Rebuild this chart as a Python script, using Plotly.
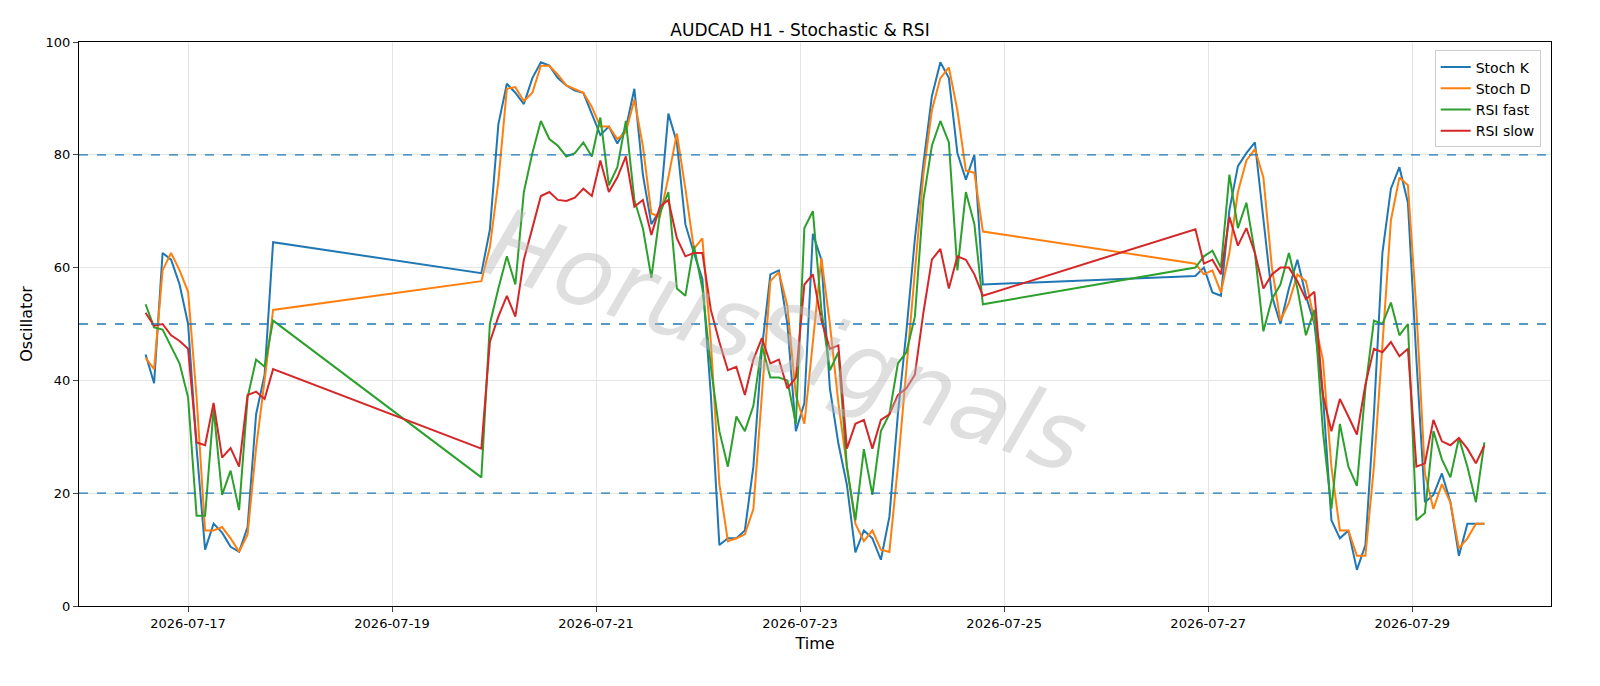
import pandas as pd
import plotly.graph_objects as go

seg1_start, seg1_n = "2026-07-16 14:00", 16
seg2_start, seg2_n = "2026-07-19 21:00", 60
seg3_start, seg3_n = "2026-07-26 21:00", 35

stoch_k = [44.6, 39.5, 62.6, 61.4, 57, 50, 28, 10, 14.6, 13, 10.5, 9.6, 14, 34, 41, 64.5,
           59, 66.7, 85.4, 92.6, 91, 89, 93.6, 96.4, 95.8, 93.6, 92.3, 91.4, 91, 87.3, 83.5, 85, 82, 84.7, 91.7, 76.5,
           67.7, 70.2, 87.3, 82.2, 67.7, 62.6, 58, 37.4, 10.8, 12, 12, 13.4, 24.7, 45.6, 58.8, 59.5, 50, 31, 36,
           66, 61.4, 38.6, 28.8, 21.5, 9.5, 13.4, 12, 8.2, 15.8, 34, 48.7, 65.1, 78.4, 90.4, 96.4, 93.6, 80.3, 75.6, 80, 57,
           58.5, 60, 55.6, 55, 70.2, 78, 80.3, 82.2, 68.4, 55, 50, 56.3, 61.4, 55, 50, 37.4, 15.2, 12, 13.4, 6.4, 10.8,
           34, 62.6, 74, 77.8, 71.5, 43.7, 18.4, 19.7, 23.5, 18.4, 8.9, 14.6, 14.6, 14.6]
stoch_d = [44, 42, 59.5, 62.6, 59.5, 55.7, 37, 13.4, 13.4, 14, 12, 9.6, 12.7, 28, 40, 52.5,
           57.6, 63.6, 75.3, 91.7, 92, 89.5, 91, 95.8, 95.8, 94.2, 92.3, 91.7, 91, 88.5, 85, 85, 82.8, 84, 89.8, 81.6,
           69.6, 69, 76, 83.8, 74, 63.3, 65.2, 46.8, 21.6, 11.5, 12, 12.7, 17.2, 37.4, 57.6, 59.2, 53.2, 37.4, 32.3,
           46.8, 61.7, 50, 36, 24.7, 14.6, 11.5, 13.4, 10, 9.6, 24.7, 41.8, 60, 76.5, 87.9, 93.6, 95.5, 87.9, 77.2, 76.8, 66.4,
           60.7, 58.8, 59.5, 55.6, 62.6, 73.4, 79, 81, 76, 60, 50.6, 53.8, 58.8, 57.6, 50.6, 43.7, 24.7, 13.4, 13.4, 8.9, 8.9,
           24.7, 46.2, 68.4, 76, 74.6, 52.5, 23.5, 17.2, 21.6, 18.4, 10.2, 12, 14.6, 14.6]
rsi_fast = [53.5, 49.4, 49, 46, 43, 37, 16, 16, 35, 19.7, 24, 17, 37, 43.7, 42.4, 50.6,
            22.8, 50, 56.3, 62, 57, 73.4, 80.3, 86, 82.8, 81.6, 79.7, 80.3, 82.2, 79.7, 86.6, 74.6, 77.8, 86, 72, 67,
            58.2, 69.6, 73.4, 56.3, 55, 63.9, 56.3, 42.4, 31, 24.7, 33.6, 31, 35.5, 46.2, 40.5, 40.5, 40, 32.3, 67,
            70, 52.5, 41.8, 45, 24.7, 15.2, 27.8, 19.7, 31, 34, 43, 45, 51.3, 72, 81.6, 86, 82.2, 59.5, 73.4, 67.7, 53.5,
            60, 62, 63, 60, 76.5, 67, 71.5, 62.6, 48.7, 54.4, 57, 62.6, 56.3, 48, 52.5, 31, 17.2, 32.3, 24.7, 21.3, 38.6,
            50.6, 50, 53.8, 48, 50, 15.2, 16.5, 31, 26, 22.8, 29.8, 24.7, 18.4, 29]
rsi_slow = [52, 49.7, 50, 48, 47, 45.6, 29, 28.5, 36, 26.3, 28, 24.7, 37.4, 38, 36.7, 42,
            27.9, 46.8, 51.3, 55, 51.3, 61.4, 67, 72.7, 73.4, 72, 71.8, 72.4, 74, 72.7, 79, 73.4, 76, 79.7, 70.8, 72,
            65.8, 70.8, 72, 65.2, 62, 62.6, 62.6, 52.5, 46.8, 41.8, 42.4, 37.4, 43.7, 47.5, 43, 43.7, 38.6, 40.5, 57,
            58.8, 50.6, 45.6, 46.2, 27.9, 32.3, 33, 27.9, 33, 34, 37.4, 38.6, 41, 52, 61.4, 63.3, 56.3, 62, 61.4, 58.8, 55,
            66.8, 60.7, 61.4, 58.8, 69, 63.9, 67, 62.6, 56.3, 58.8, 60, 60, 57.6, 54.4, 55.7, 37.4, 31, 36.7, 33.6, 30.4, 39.3,
            45.6, 45, 46.8, 44.3, 45.6, 24.7, 25.3, 33, 29.2, 28.5, 29.8, 27.9, 25.3, 28.5]

times = (list(pd.date_range(seg1_start, periods=seg1_n, freq="2h"))
         + list(pd.date_range(seg2_start, periods=seg2_n, freq="2h"))
         + list(pd.date_range(seg3_start, periods=seg3_n, freq="2h")))

fig = go.Figure()
for name, vals, col in [("Stoch K", stoch_k, "#1f77b4"), ("Stoch D", stoch_d, "#ff7f0e"),
                        ("RSI fast", rsi_fast, "#2ca02c"), ("RSI slow", rsi_slow, "#d62728")]:
    fig.add_trace(go.Scatter(x=times, y=vals, mode="lines", name=name, line=dict(color=col, width=2)))

for lvl in [20, 50, 80]:
    fig.add_hline(y=lvl, line=dict(color="#1f77b4", width=1.3, dash="dash"))

fig.add_annotation(text="<i>HorusSignals</i>", xref="paper", yref="paper", x=0.48, y=0.47,
                   showarrow=False, textangle=19,
                   font=dict(size=96, color="rgba(185,185,185,0.45)", family="DejaVu Sans"))

fig.update_layout(
    autosize=True, paper_bgcolor="white", plot_bgcolor="white",
    margin=dict(l=79, r=49, t=42, b=80),
    title=dict(text="AUDCAD H1 - Stochastic & RSI", x=0.5, y=0.965, xanchor="center",
               font=dict(size=17, color="black", family="DejaVu Sans")),
    font=dict(family="DejaVu Sans", size=13, color="black"),
    legend=dict(x=0.993, y=0.985, xanchor="right", yanchor="top", bordercolor="#cccccc", borderwidth=1,
                bgcolor="rgba(255,255,255,0.9)", font=dict(size=14)),
    xaxis=dict(title=dict(text="Time", standoff=8), range=["2026-07-15 22:20", "2026-07-30 08:40"],
               dtick=2 * 86400000, tick0="2026-07-17", tickformat="%Y-%m-%d",
               showgrid=True, gridcolor="#e5e5e5", showline=True, linecolor="black", mirror=True,
               ticks="outside", ticklen=5, zeroline=False),
    yaxis=dict(title=dict(text="Oscillator", standoff=8), range=[0, 100], dtick=20,
               showgrid=True, gridcolor="#e5e5e5", showline=True, linecolor="black", mirror=True,
               ticks="outside", ticklen=5, zeroline=False),
)
fig.write_html("out.html", default_width="100vw", default_height="100vh",
               config={"displayModeBar": False, "responsive": True},
               post_script="document.body.style.margin='0';document.body.style.overflow='hidden';window.dispatchEvent(new Event('resize'));")
